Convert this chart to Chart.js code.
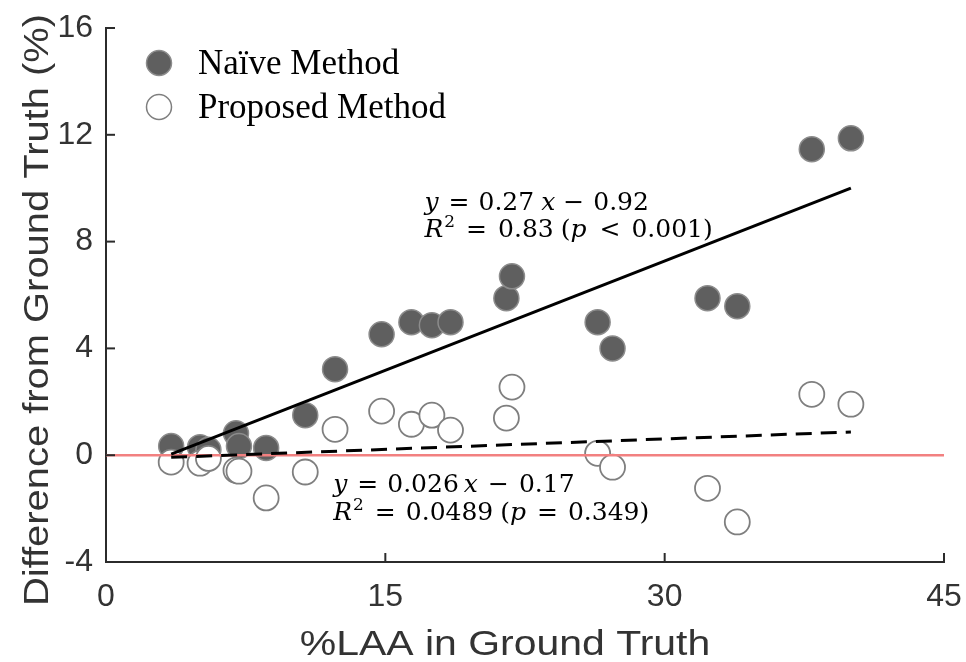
<!DOCTYPE html>
<html>
<head>
<meta charset="utf-8">
<script src="https://cdn.jsdelivr.net/npm/chart.js@4"></script>
<style>
html, body { margin: 0; padding: 0; background: #fff; }
</style>
</head>
<body>
<canvas id="chart" width="966" height="662"></canvas>
<script>
// %LAA in ground truth, one value per subject (shared by both methods)
const laaX = [3.5, 5.05, 5.5, 6.98, 7.14, 8.6, 10.7, 12.3, 14.8, 16.4, 17.5, 18.5, 21.5, 21.8, 26.4, 27.2, 32.3, 33.9, 37.9, 40.0];
const naiveY = [0.34, 0.3, 0.2, 0.82, 0.34, 0.27, 1.5, 3.22, 4.53, 4.98, 4.87, 4.98, 5.88, 6.7, 4.98, 4.0, 5.88, 5.58, 11.46, 11.87];
const proposedY = [-0.26, -0.3, -0.12, -0.56, -0.6, -1.6, -0.63, 0.97, 1.65, 1.16, 1.5, 0.94, 1.39, 2.55, 0.07, -0.45, -1.24, -2.5, 2.28, 1.91];

// regression line end points
const fitX = [3.5, 40];
const naiveFitY = [0.04, 10.0];
const proposedFitY = [-0.08, 0.87];
const zeroX = [0, 45];
const zeroY = [0, 0];

const xTicks = [0, 15, 30, 45];
const yTicks = [-4, 0, 4, 8, 12, 16];

const axisColor = "#2b2b2b";
const toPoints = (xs, ys) => xs.map((v, i) => ({ x: v, y: ys[i] }));

const drawMath = (ctx, x0, yb, parts) => {
    let x = x0;
    parts.forEach(([t, s, g]) => {
        const size = s === "s" ? 17 : 25;
        ctx.font = (s === "i" ? "italic " : "") + size + 'px "DejaVu Serif"';
        ctx.fillText(t, x, s === "s" ? yb - 10 : yb);
        x += ctx.measureText(t).width + (g || 0);
    });
};

const overlay = {
    id: "overlay",
    afterDatasetsDraw(chart) {
        const { ctx, chartArea, scales: { x, y } } = chart;
        ctx.save();

        // inward tick marks
        ctx.strokeStyle = axisColor;
        ctx.lineWidth = 2;
        xTicks.forEach(v => {
            const px = x.getPixelForValue(v);
            ctx.beginPath();
            ctx.moveTo(px, chartArea.bottom);
            ctx.lineTo(px, chartArea.bottom - 9);
            ctx.stroke();
        });
        yTicks.forEach(v => {
            const py = y.getPixelForValue(v);
            ctx.beginPath();
            ctx.moveTo(chartArea.left, py);
            ctx.lineTo(chartArea.left + 9, py);
            ctx.stroke();
        });

        // legend
        const lx = chartArea.left + 53;
        [["Naïve Method", "#5f5f5f", "#8c8c8c", 35], ["Proposed Method", "#ffffff", "#7f7f7f", 79]].forEach(([label, fill, stroke, dy]) => {
            ctx.beginPath();
            ctx.arc(lx, chartArea.top + dy, 12.5, 0, Math.PI * 2);
            ctx.fillStyle = fill;
            ctx.fill();
            ctx.lineWidth = 1.5;
            ctx.strokeStyle = stroke;
            ctx.stroke();
            ctx.fillStyle = "#000";
            ctx.font = '35px "Liberation Serif"';
            ctx.textBaseline = "alphabetic";
            ctx.fillText(label, lx + 39, chartArea.top + dy + 11);
        });

        // fit equations
        ctx.fillStyle = "#000";
        let ax = x.getPixelForValue(17.1), ay = y.getPixelForValue(9.2);
        drawMath(ctx, ax, ay, [["y", "i", 10], ["=", "n", 9], ["0.27", "n", 7], ["x", "i", 8], ["−", "n", 9], ["0.92", "n", 0]]);
        drawMath(ctx, ax, ay + 27, [["R", "i", 1], ["2", "s", 11], ["=", "n", 11], ["0.83", "n", 7], ["(", "n", 0], ["p", "i", 13], ["<", "n", 11], ["0.001", "n", 0], [")", "n", 0]]);
        ax = x.getPixelForValue(12.2);
        ay = y.getPixelForValue(-1.39);
        drawMath(ctx, ax, ay, [["y", "i", 10], ["=", "n", 9], ["0.026", "n", 5], ["x", "i", 10], ["−", "n", 10], ["0.17", "n", 0]]);
        drawMath(ctx, ax, ay + 28, [["R", "i", 1], ["2", "s", 11], ["=", "n", 10], ["0.0489", "n", 7], ["(", "n", 0], ["p", "i", 11], ["=", "n", 10], ["0.349", "n", 0], [")", "n", 0]]);

        // axis titles
        ctx.fillStyle = "#333";
        ctx.font = '35px "Liberation Sans"';
        ctx.textAlign = "center";
        ctx.save();
        ctx.translate(505, 655);
        ctx.scale(1.17, 1);
        ctx.fillText("%LAA in Ground Truth", 0, 0);
        ctx.restore();
        ctx.save();
        ctx.translate(48, 310);
        ctx.rotate(-Math.PI / 2);
        ctx.scale(1.14, 1);
        ctx.fillText("Difference from Ground Truth (%)", 0, 0);
        ctx.restore();

        ctx.restore();
    }
};

new Chart(document.getElementById("chart"), {
    type: "scatter",
    data: {
        datasets: [
            {
                label: "fit naive",
                type: "line",
                data: toPoints(fitX, naiveFitY),
                borderColor: "#000",
                borderWidth: 3,
                pointRadius: 0,
                order: 0
            },
            {
                label: "fit proposed",
                type: "line",
                data: toPoints(fitX, proposedFitY),
                borderColor: "#000",
                borderWidth: 3,
                borderDash: [16, 9],
                pointRadius: 0,
                order: 1
            },
            {
                label: "zero",
                type: "line",
                data: toPoints(zeroX, zeroY),
                borderColor: "#f28080",
                borderWidth: 2.5,
                pointRadius: 0,
                order: 2
            },
            {
                label: "Proposed Method",
                data: toPoints(laaX, proposedY),
                backgroundColor: "#ffffff",
                borderColor: "#7f7f7f",
                borderWidth: 1.8,
                pointRadius: 12.5,
                order: 3
            },
            {
                label: "Naïve Method",
                data: toPoints(laaX, naiveY),
                backgroundColor: "#5f5f5f",
                borderColor: "#8c8c8c",
                borderWidth: 1.5,
                pointRadius: 12.5,
                order: 4
            }
        ]
    },
    options: {
        responsive: false,
        animation: false,
        devicePixelRatio: 1,
        layout: { padding: { top: 28, right: 22, left: 0, bottom: 0 } },
        plugins: {
            legend: { display: false },
            tooltip: { enabled: false }
        },
        scales: {
            x: {
                type: "linear",
                min: 0,
                max: 45,
                afterBuildTicks: s => { s.ticks = xTicks.map(v => ({ value: v })); },
                afterFit: s => {
                    s.height = 100;
                    s.paddingLeft = 0;
                    s.paddingRight = 0;
                },
                grid: { display: false },
                border: { display: true, color: axisColor, width: 2 },
                ticks: {
                    color: "#333",
                    padding: 8,
                    font: { family: "Liberation Sans", size: 32 }
                }
            },
            y: {
                type: "linear",
                min: -4,
                max: 16,
                afterBuildTicks: s => { s.ticks = yTicks.map(v => ({ value: v })); },
                afterFit: s => {
                    s.width = 106;
                    s.paddingTop = 0;
                    s.paddingBottom = 0;
                },
                grid: { display: false },
                border: { display: true, color: axisColor, width: 2 },
                ticks: {
                    color: "#333",
                    padding: 5,
                    font: { family: "Liberation Sans", size: 32 }
                }
            }
        }
    },
    plugins: [overlay]
});
</script>
</body>
</html>
